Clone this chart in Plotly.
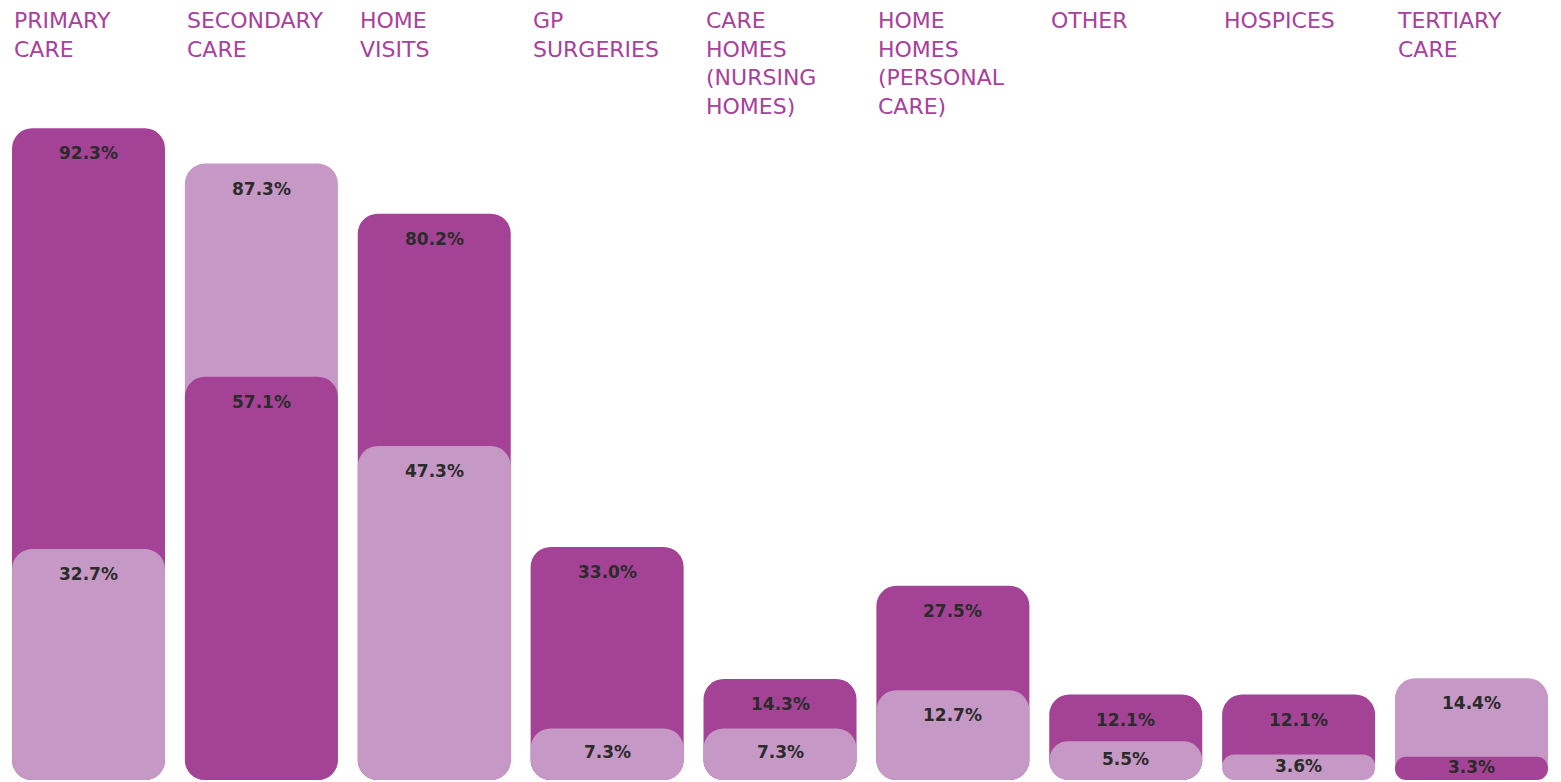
import plotly.graph_objects as go

# ---- data ----
categories = ["PRIMARY<br>CARE", "SECONDARY<br>CARE", "HOME<br>VISITS", "GP<br>SURGERIES",
              "CARE<br>HOMES<br>(NURSING<br>HOMES)", "HOME<br>HOMES<br>(PERSONAL<br>CARE)",
              "OTHER", "HOSPICES", "TERTIARY<br>CARE"]
dark_series = [92.3, 57.1, 80.2, 33.0, 14.3, 27.5, 12.1, 12.1, 3.3]
light_series = [32.7, 87.3, 47.3, 7.3, 7.3, 12.7, 5.5, 3.6, 14.4]

# ---- style ----
DARK = "#A44395"
LIGHT = "#C698C5"
LABEL_COLOR = "#A8409C"
VALUE_COLOR = "#2B2B2B"
W, H = 1553, 774            # page has an 8px body margin
M_L, M_R, M_T, M_B = 0, 0, 0, 2
Y_MAX = 109.34
X_RANGE = [-0.4657, 8.5177]
BARGAP = 0.115
RADIUS = 20
px_per_unit = (H - M_T - M_B) / Y_MAX

xs = list(range(len(categories)))
back_vals, back_cols, front_vals, front_cols = [], [], [], []
for d, l in zip(dark_series, light_series):
    if d >= l:
        back_vals.append(d); back_cols.append(DARK)
        front_vals.append(l); front_cols.append(LIGHT)
    else:
        back_vals.append(l); back_cols.append(LIGHT)
        front_vals.append(d); front_cols.append(DARK)

fig = go.Figure()
for vals, cols in [(back_vals, back_cols), (front_vals, front_cols)]:
    # explicit base so both ends of each bar get rounded corners
    fig.add_trace(go.Bar(
        x=xs, y=vals, base=[0] * len(vals),
        marker=dict(color=cols, line=dict(width=0), cornerradius=RADIUS),
        opacity=1, hoverinfo="skip", showlegend=False))

annotations = []
for i, cat in enumerate(categories):
    annotations.append(dict(
        x=i - 0.5 + BARGAP / 2, xref="x", xanchor="left",
        y=1, yref="paper", yanchor="top", yshift=2,
        text=cat, align="left", showarrow=False,
        font=dict(family="DejaVu Sans", size=22, color=LABEL_COLOR)))

for vals in (back_vals, front_vals):
    for i, v in enumerate(vals):
        h_px = v * px_per_unit
        shift = min(25, 0.45 * h_px)
        annotations.append(dict(
            x=i, y=v, xref="x", yref="y", yanchor="middle", yshift=-shift,
            text=f"{v:.1f}%", showarrow=False,
            font=dict(family="DejaVu Sans", size=17, color=VALUE_COLOR, weight="bold")))

fig.update_layout(
    width=W, height=H,
    margin=dict(l=M_L, r=M_R, t=M_T, b=M_B),
    barmode="overlay", bargap=BARGAP,
    paper_bgcolor="white", plot_bgcolor="white",
    xaxis=dict(range=X_RANGE, visible=False, fixedrange=True),
    yaxis=dict(range=[0, Y_MAX], visible=False, fixedrange=True),
    annotations=annotations,
)

fig.write_html("out.html")
